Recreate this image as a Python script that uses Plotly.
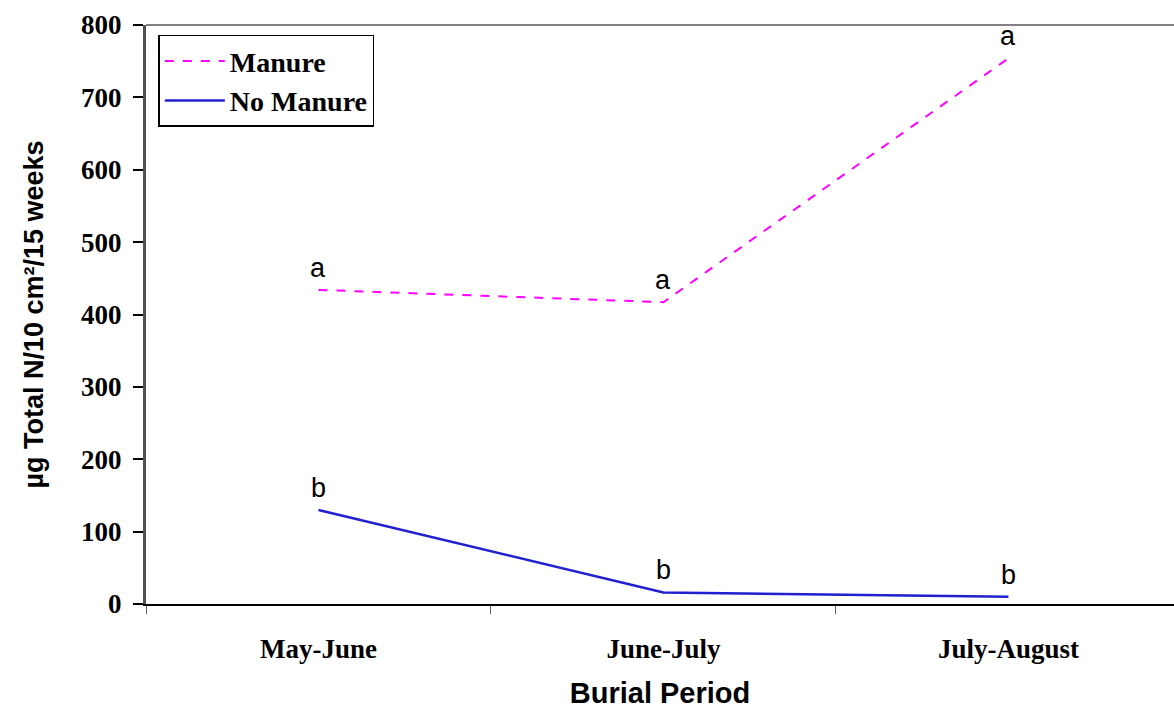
import plotly.graph_objects as go

periods = ["May-June", "June-July", "July-August"]
manure = [434, 417, 754]
no_manure = [130, 16, 10]
manure_letters = ["a", "a", "a"]
no_manure_letters = ["b", "b", "b"]

serif_bold = dict(family="Liberation Serif, Times New Roman, serif", size=27, color="black", weight="bold")
letter_font = dict(family="Liberation Sans, Arial, sans-serif", size=27, color="black")

fig = go.Figure()
fig.add_trace(go.Scatter(
    x=periods, y=manure, mode="lines", name="Manure", legendgroup="m",
    line=dict(color="#FF00FF", width=2, dash="dash"),
))
fig.add_trace(go.Scatter(
    x=periods, y=no_manure, mode="lines", name="No Manure", legendgroup="n",
    line=dict(color="#2020D0", width=2.5),
))

# significance letters above each point
for ys, letters in [(manure, manure_letters), (no_manure, no_manure_letters)]:
    for x, y, t in zip(periods, ys, letters):
        fig.add_annotation(x=x, y=y, text=t, showarrow=False, yshift=22, font=letter_font)

# top border of plot area
fig.add_shape(type="line", xref="paper", yref="paper", x0=0, x1=1, y0=1, y1=1,
              line=dict(color="#808080", width=2))

fig.update_layout(
    width=1174, height=709,
    margin=dict(l=146, r=0, t=25, b=105),
    paper_bgcolor="white", plot_bgcolor="white",
    showlegend=True,
    legend=dict(
        x=0.012, y=0.983, xanchor="left", yanchor="top",
        bordercolor="black", borderwidth=1.5, bgcolor="white",
        font=dict(serif_bold, size=28), itemwidth=60, tracegroupgap=0,
    ),
    xaxis=dict(
        range=[-0.5, 2.48], showgrid=False, zeroline=False,
        showline=True, linecolor="black", linewidth=2,
        ticks="outside", tickson="boundaries", ticklen=8, tickcolor="#606060",
        tickfont=serif_bold, ticklabelstandoff=20,
        title=dict(text="Burial Period",
                   font=dict(family="Liberation Sans, Arial, sans-serif", size=29, color="black", weight="bold"),
                   standoff=24),
    ),
    yaxis=dict(
        range=[0, 800], dtick=100, showgrid=False, zeroline=False,
        showline=True, linecolor="#505050", linewidth=3,
        ticks="outside", ticklen=10, tickcolor="black", tickwidth=1.5,
        tickfont=serif_bold, ticklabelstandoff=6,
        title=dict(text="µg Total N/10 cm²/15 weeks",
                   font=dict(family="Liberation Sans, Arial, sans-serif", size=27, color="black", weight="bold"),
                   standoff=30),
    ),
)

fig.write_html("out.html")
